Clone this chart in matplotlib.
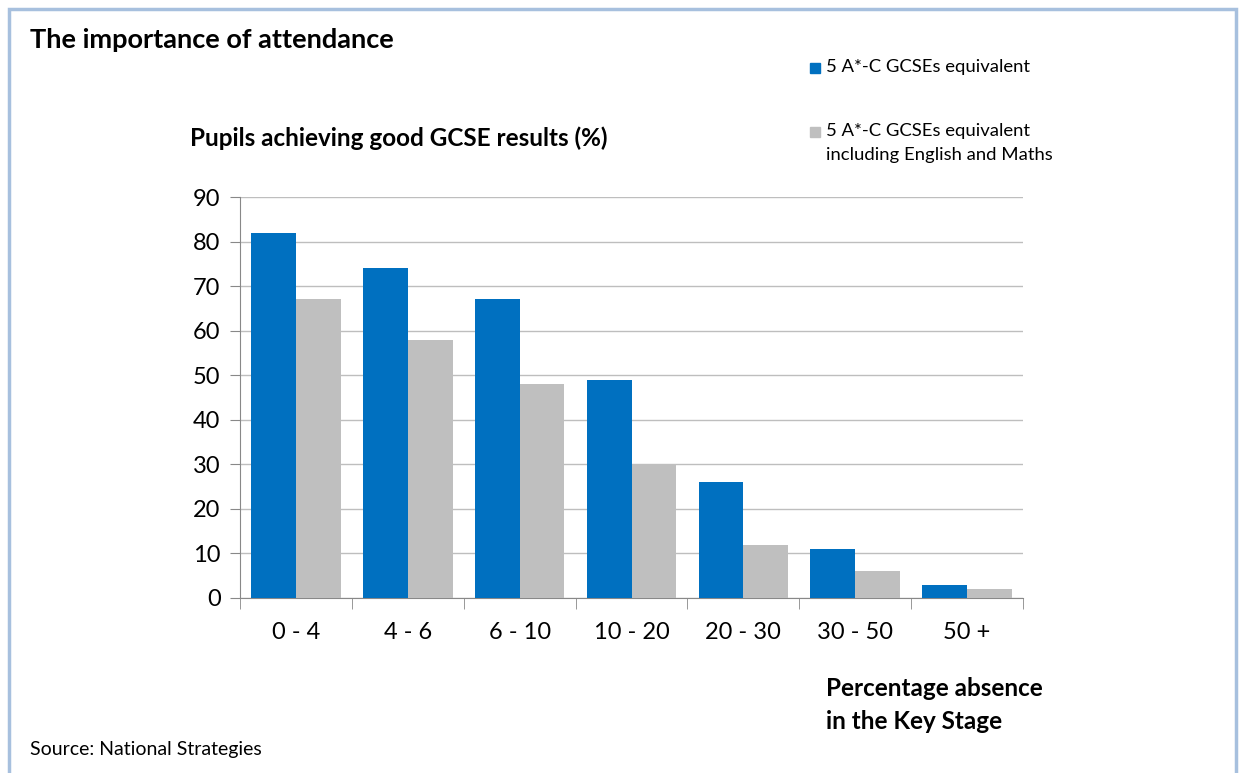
import matplotlib.pyplot as plt
from matplotlib.patches import Rectangle

# absence bands and attainment (%)
bands = ["0 - 4", "4 - 6", "6 - 10", "10 - 20", "20 - 30", "30 - 50", "50 +"]
five_ac = [82, 74, 67, 49, 26, 11, 3]
five_ac_em = [67, 58, 48, 30, 12, 6, 2]

series_names = ["5 A*-C GCSEs equivalent",
                "5 A*-C GCSEs equivalent\nincluding English and Maths"]

blue = "#0070C0"
grey = "#BFBFBF"

plt.rcParams['font.family'] = ['Lato', 'DejaVu Sans']

fig = plt.figure(figsize=(12.39, 7.73), dpi=100)
W, H = 1239, 773
ax = fig.add_axes([240 / W, 1 - 598 / H, 783 / W, 401 / H])

x = list(range(len(bands)))
w = 0.4
ax.bar([i - w / 2 for i in x], five_ac, width=w, color=blue, zorder=3)
ax.bar([i + w / 2 for i in x], five_ac_em, width=w, color=grey, zorder=3)

ax.set_xlim(-0.5, len(bands) - 0.5)
ax.set_ylim(0, 90)
ax.set_yticks(range(0, 91, 10))
ax.yaxis.grid(True, color="#BEBEBE", linewidth=1, zorder=0)
ax.set_axisbelow(True)

# category labels in the middle, tick marks on the boundaries
ax.set_xticks(x)
ax.set_xticklabels(bands)
ax.set_xticks([i - 0.5 for i in range(len(bands) + 1)], minor=True)
ax.tick_params(axis="x", which="major", length=0, pad=17, labelsize=17)
ax.tick_params(axis="x", which="minor", length=8, color="#888888")
ax.tick_params(axis="y", length=7, color="#888888", labelsize=17, pad=7)

for s in ["top", "right"]:
    ax.spines[s].set_visible(False)
ax.spines["left"].set_color("#888888")
ax.spines["bottom"].set_color("#888888")

# texts
fig.text(30 / W, 1 - 40 / H, "The importance of attendance",
         fontsize=19.5, fontweight="bold", va="center", ha="left")
fig.text(190 / W, 1 - 138 / H, "Pupils achieving good GCSE results (%)",
         fontsize=17.5, fontweight="bold", va="center", ha="left")
fig.text(826 / W, 1 - 705 / H, "Percentage absence\nin the Key Stage",
         fontsize=17.5, fontweight="bold", va="center", ha="left", linespacing=1.5)
fig.text(30 / W, 1 - 750 / H, "Source: National Strategies",
         fontsize=14, va="center", ha="left")

# legend: square swatch next to the first line of each label
for y_mid, col, name in [(68, blue, series_names[0]), (132, grey, series_names[1])]:
    fig.patches.append(Rectangle((810 / W, 1 - (y_mid + 5) / H), 10 / W, 10 / H,
                                 transform=fig.transFigure, color=col))
    fig.text(826 / W, 1 - (y_mid - 9) / H, name, fontsize=13.3, va="top",
             ha="left", linespacing=1.6)

# light blue frame around the panel
fig.patches.append(Rectangle((9 / W, -0.01), 1227 / W, 1 - 9 / H + 0.01,
                             transform=fig.transFigure, fill=False,
                             edgecolor="#A7C0DE", linewidth=2.5))

fig.savefig("out.png", dpi=100)
